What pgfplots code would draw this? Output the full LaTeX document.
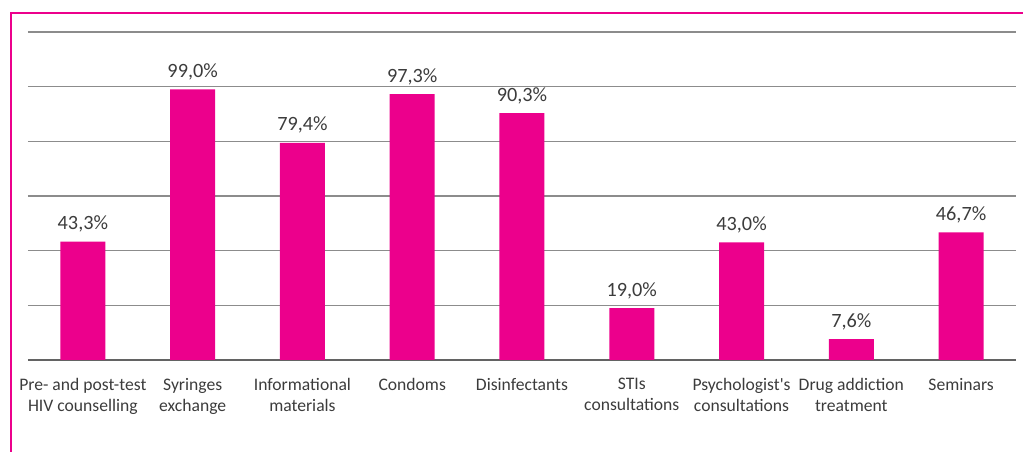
\documentclass[border=0pt]{standalone}
\usepackage{fontspec}
\setmainfont{Carlito}
\usepackage{pgfplots}
\pgfplotsset{compat=1.18}
\definecolor{barpink}{RGB}{236,0,140}
\definecolor{txtgray}{RGB}{60,60,60}
\definecolor{gridgray}{RGB}{140,140,140}
\begin{document}
\begin{tikzpicture}
\useasboundingbox (0,0) rectangle (767.25pt,339pt);
% frame of the panel
\draw[barpink, line width=1.5pt] (8.25pt,0pt) -- (8.25pt,329.25pt) -- (770pt,329.25pt);
\begin{axis}[
    at={(21pt,69pt)}, anchor=south west,
    scale only axis,
    width=741pt, height=246pt,
    xmin=-0.5, xmax=8.5,
    ymin=0, ymax=120,
    axis x line*=bottom,
    axis y line*=left,
    y axis line style={draw=none},
    x axis line style={draw=txtgray!80, line width=1pt, -},
    ymajorgrids,
    ytick={20,40,...,120},
    yticklabels={},
    major y tick style={draw=none},
    grid style={gridgray, line width=1.1pt},
    xtick={0,...,8},
    xticklabels={{Pre- and post-test\\HIV counselling},{Syringes\\exchange},{Informational\\materials},{Condoms},{Disinfectants},{STIs\\consultations},{Psychologist\textquotesingle s\\consultations},{Drug addiction\\treatment},{Seminars}},
    xticklabel style={align=center, font=\fontsize{13.2}{15.5}\selectfont, text=txtgray, yshift=-6pt},
    major x tick style={draw=none},
    extra x ticks={-0.5,0.5,...,8.5},
    extra x tick labels={},
    extra x tick style={tick align=outside, major tick length=4pt, tick style={draw=txtgray!80, line width=0.8pt}},
    ybar, bar width=33.75pt,
    nodes near coords,
    point meta=explicit symbolic,
    every node near coord/.append style={font=\fontsize{15.2}{18}\selectfont, text=txtgray, yshift=3.5pt},
]
\addplot[fill=barpink, draw=none] coordinates {
    (0,43.3) [43,3\%]
    (1,99.0) [99,0\%]
    (2,79.4) [79,4\%]
    (3,97.3) [97,3\%]
    (4,90.3) [90,3\%]
    (5,19.0) [19,0\%]
    (6,43.0) [43,0\%]
    (7,7.6)  [7,6\%]
    (8,46.7) [46,7\%]
};
\end{axis}
\end{tikzpicture}
\end{document}
